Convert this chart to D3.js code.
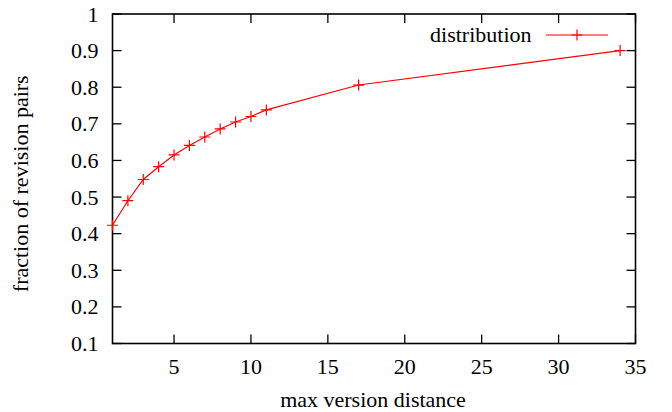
<!DOCTYPE html>
<html>
<head>
<meta charset="utf-8">
<script src="https://cdn.jsdelivr.net/npm/d3@7"></script>
<style>
  body { margin: 0; background: #fff; }
  svg { font-family: "Liberation Serif", "Times New Roman", serif; }
</style>
</head>
<body>
<svg width="672" height="412"></svg>
<script>
// data
const distance = [1, 2, 3, 4, 5, 6, 7, 8, 9, 10, 11, 17, 34]
const fraction = [0.423, 0.49, 0.548, 0.583, 0.615, 0.641, 0.664, 0.686, 0.705, 0.72, 0.738, 0.806, 0.9]
const xTicks = [5, 10, 15, 20, 25, 30, 35]
const yTicks = [0.1, 0.2, 0.3, 0.4, 0.5, 0.6, 0.7, 0.8, 0.9, 1]
const seriesName = 'distribution'

let svg = d3.select('svg')
let pLeft = 112.5, pRight = 635.5, pTop = 14, pBottom = 343.5
let fs = 22

let x = d3.scaleLinear().domain([1, 35]).range([pLeft, pRight])
let y = d3.scaleLinear().domain([0.1, 1]).range([pBottom, pTop])

let tick = 9
let g = svg.append('g').attr('stroke', '#000').attr('stroke-width', 1.3)

// mirrored inward ticks
xTicks.forEach(t => {
  g.append('line').attr('x1', x(t)).attr('x2', x(t)).attr('y1', pBottom).attr('y2', pBottom - tick)
  g.append('line').attr('x1', x(t)).attr('x2', x(t)).attr('y1', pTop).attr('y2', pTop + tick)
})
yTicks.forEach(t => {
  g.append('line').attr('x1', pLeft).attr('x2', pLeft + tick).attr('y1', y(t)).attr('y2', y(t))
  g.append('line').attr('x1', pRight).attr('x2', pRight - tick).attr('y1', y(t)).attr('y2', y(t))
})

svg.append('rect')
  .attr('x', pLeft).attr('y', pTop)
  .attr('width', pRight - pLeft).attr('height', pBottom - pTop)
  .attr('fill', 'none').attr('stroke', '#000').attr('stroke-width', 1.6)

// tick labels
svg.append('g').selectAll('text').data(xTicks).enter().append('text')
  .attr('x', d => x(d)).attr('y', pBottom + 30)
  .attr('text-anchor', 'middle').attr('font-size', fs)
  .text(d => d)
svg.append('g').selectAll('text').data(yTicks).enter().append('text')
  .attr('x', pLeft - 14).attr('y', d => y(d) + 7.5)
  .attr('text-anchor', 'end').attr('font-size', fs)
  .text(d => d3.format('~g')(d))

// axis titles
svg.append('text').attr('x', (pLeft + pRight) / 2 - 1).attr('y', 407)
  .attr('text-anchor', 'middle').attr('font-size', fs).text('max version distance')
svg.append('text').attr('transform', 'translate(28,' + ((pTop + pBottom) / 2 + 5) + ')rotate(-90)')
  .attr('text-anchor', 'middle').attr('font-size', fs).text('fraction of revision pairs')

// series
let pts = distance.map((d, i) => [d, fraction[i]])
svg.append('path')
  .attr('d', d3.line().x(d => x(d[0])).y(d => y(d[1]))(pts))
  .attr('fill', 'none').attr('stroke', '#ff0000').attr('stroke-width', 1.2)

let plus = (sel, s) => sel.attr('d', 'M' + -s + ',0H' + s + 'M0,' + -s + 'V' + s)
  .attr('stroke', '#ff0000').attr('stroke-width', 1.2).attr('fill', 'none')

svg.append('g').selectAll('path').data(pts).enter().append('path')
  .attr('transform', d => 'translate(' + x(d[0]) + ',' + y(d[1]) + ')')
  .call(plus, 5.5)

// legend
svg.append('text').attr('x', 531.5).attr('y', 42)
  .attr('text-anchor', 'end').attr('font-size', fs).text(seriesName)
svg.append('line').attr('x1', 546).attr('x2', 608).attr('y1', 35).attr('y2', 35)
  .attr('stroke', '#ff0000').attr('stroke-width', 1.2)
svg.append('path').attr('transform', 'translate(577,35)').call(plus, 5.5)
</script>
</body>
</html>
